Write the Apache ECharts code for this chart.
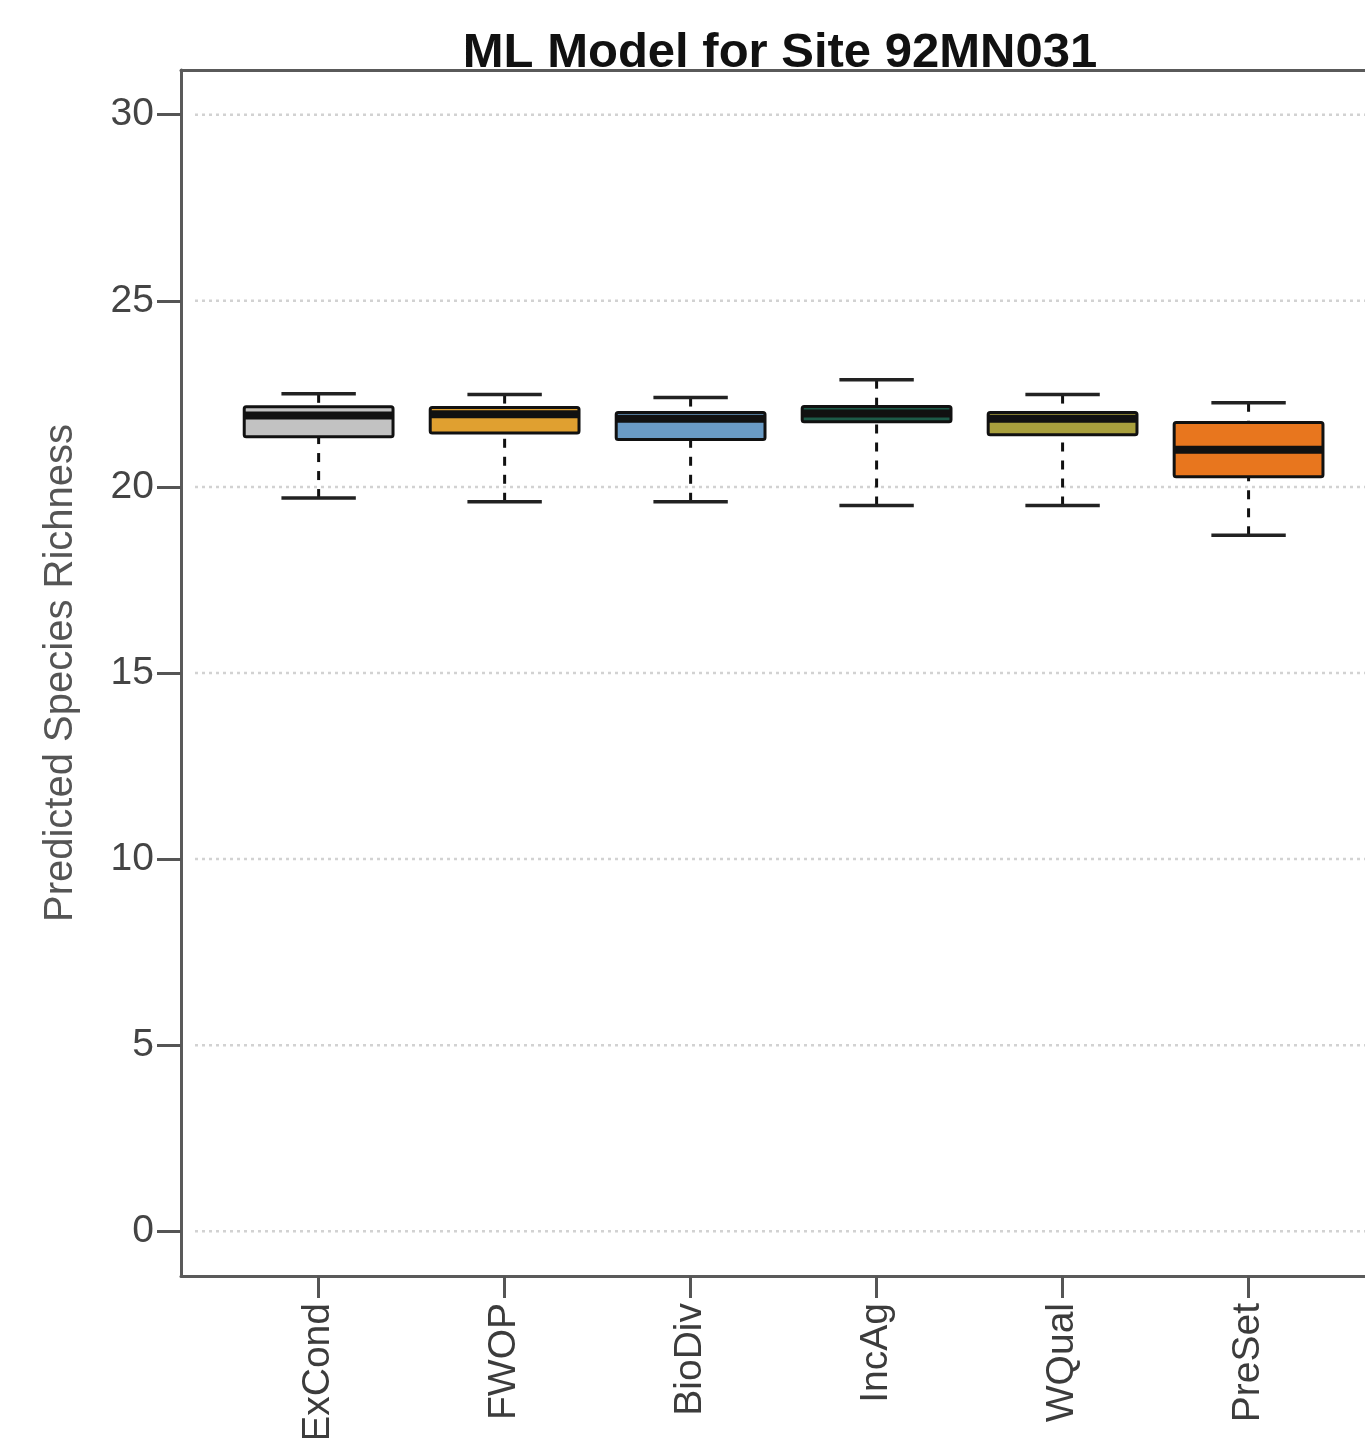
<!DOCTYPE html>
<html>
<head>
<meta charset="utf-8">
<title>ML Model for Site 92MN031</title>
<script src="https://cdn.jsdelivr.net/npm/echarts@6/dist/echarts.min.js"></script>
<style>
  html, body { margin: 0; padding: 0; background: #fff; }
  #chart { width: 1365px; height: 1438px; }
</style>
</head>
<body>
<div id="chart"></div>
<script>
// categories and box statistics
var categories = ['ExCond', 'FWOP', 'BioDiv', 'IncAg', 'WQual', 'PreSet'];
var whiskerLow = [19.7, 19.6, 19.6, 19.5, 19.5, 18.7];
var quartile1  = [21.35, 21.45, 21.27, 21.75, 21.4, 20.27];
var medians    = [21.92, 21.95, 21.83, 21.97, 21.83, 21.0];
var quartile3  = [22.15, 22.13, 22.0, 22.16, 22.0, 21.73];
var whiskerHigh = [22.5, 22.48, 22.4, 22.88, 22.48, 22.26];
var boxColors = ['#c2c2c2', '#e0a030', '#6a9bc5', '#1d5a48', '#a89f3d', '#e8761e'];
var yTicks = [0, 5, 10, 15, 20, 25, 30];
var xPositions = [1, 2, 3, 4, 5, 6];

var font = "'Liberation Sans', Arial, sans-serif";
var frameColor = '#5a5a5a';

var boxData = categories.map(function (c, i) {
    return [xPositions[i], whiskerLow[i], quartile1[i], medians[i], quartile3[i], whiskerHigh[i], i];
});

function renderGrid(params, api) {
    var cs = params.coordSys;
    var p = api.coord([1, api.value(0)]);
    return {
        type: 'line',
        shape: { x1: cs.x + 14, y1: p[1], x2: cs.x + cs.width, y2: p[1] },
        style: { stroke: '#d2d2d2', lineWidth: 2.5, lineDash: [3, 4] },
        silent: true
    };
}

function renderBox(params, api) {
    var x = api.value(0);
    var i = api.value(6);
    var half = 0.4, capHalf = 0.2;
    var lo = api.coord([x, api.value(1)]);
    var q1 = api.coord([x, api.value(2)]);
    var md = api.coord([x, api.value(3)]);
    var q3 = api.coord([x, api.value(4)]);
    var hi = api.coord([x, api.value(5)]);
    var left = api.coord([x - half, 0])[0];
    var right = api.coord([x + half, 0])[0];
    var capL = api.coord([x - capHalf, 0])[0];
    var capR = api.coord([x + capHalf, 0])[0];
    var black = '#111';
    return {
        type: 'group',
        children: [
            { type: 'line', shape: { x1: lo[0], y1: lo[1], x2: q1[0], y2: q1[1] },
              style: { stroke: black, lineWidth: 3, lineDash: [9, 9] } },
            { type: 'line', shape: { x1: hi[0], y1: hi[1], x2: q3[0], y2: q3[1] },
              style: { stroke: black, lineWidth: 3, lineDash: [9, 9] } },
            { type: 'line', shape: { x1: capL, y1: lo[1], x2: capR, y2: lo[1] },
              style: { stroke: '#222', lineWidth: 3.5 } },
            { type: 'line', shape: { x1: capL, y1: hi[1], x2: capR, y2: hi[1] },
              style: { stroke: '#222', lineWidth: 3.5 } },
            { type: 'rect', shape: { x: left, y: q3[1], width: right - left, height: q1[1] - q3[1], r: 2 },
              style: { fill: boxColors[i], stroke: black, lineWidth: 3 } },
            { type: 'line', shape: { x1: left, y1: md[1], x2: right, y2: md[1] },
              style: { stroke: black, lineWidth: 8 } }
        ]
    };
}

var chart = echarts.init(document.getElementById('chart'));

var option = {
    backgroundColor: '#ffffff',
    animation: false,
    title: {
        text: 'ML Model for Site 92MN031',
        left: 775,
        textAlign: 'center',
        top: 24,
        textStyle: { fontFamily: font, fontSize: 49, fontWeight: 'bold', color: '#111' }
    },
    grid: { left: 181, right: 0, top: 70, bottom: 162, outerBoundsMode: 'none', containLabel: false },
    xAxis: [
        {
            type: 'value',
            position: 'bottom',
            min: 0.26,
            max: 6.626,
            axisLine: { show: true, onZero: false, lineStyle: { color: frameColor, width: 3 } },
            splitLine: { show: false },
            axisTick: {
                show: true, customValues: xPositions, length: 22,
                lineStyle: { color: '#555', width: 3 }
            },
            axisLabel: {
                show: true, customValues: xPositions, rotate: 90, margin: 27,
                fontFamily: font, fontSize: 39, color: '#3c3c3c',
                formatter: function (v) { return categories[Math.round(v) - 1]; }
            }
        },
        {
            type: 'value',
            position: 'top',
            min: 0.26,
            max: 6.626,
            axisLine: { show: true, onZero: false, lineStyle: { color: frameColor, width: 3 } },
            axisTick: { show: false },
            axisLabel: { show: false },
            splitLine: { show: false }
        }
    ],
    yAxis: {
        type: 'value',
        min: -1.2,
        max: 31.2,
        name: 'Predicted Species Richness',
        nameLocation: 'middle',
        nameRotate: 90,
        nameGap: 100,
        nameTextStyle: { fontFamily: font, fontSize: 40, color: '#555' },
        axisLine: { show: true, onZero: false, lineStyle: { color: frameColor, width: 3 } },
        splitLine: { show: false },
        axisTick: {
            show: true, customValues: yTicks, length: 24,
            lineStyle: { color: '#555', width: 3 }
        },
        axisLabel: {
            show: true, customValues: yTicks, margin: 27,
            fontFamily: font, fontSize: 39, color: '#444'
        }
    },
    series: [
        {
            type: 'custom',
            name: 'grid',
            z: 1,
            silent: true,
            renderItem: renderGrid,
            data: yTicks.map(function (v) { return [v]; }),
            encode: { y: 0 }
        },
        {
            type: 'custom',
            name: 'boxes',
            z: 3,
            renderItem: renderBox,
            data: boxData,
            encode: { x: 0, y: [1, 2, 3, 4, 5] }
        }
    ]
};

chart.setOption(option);
</script>
</body>
</html>
